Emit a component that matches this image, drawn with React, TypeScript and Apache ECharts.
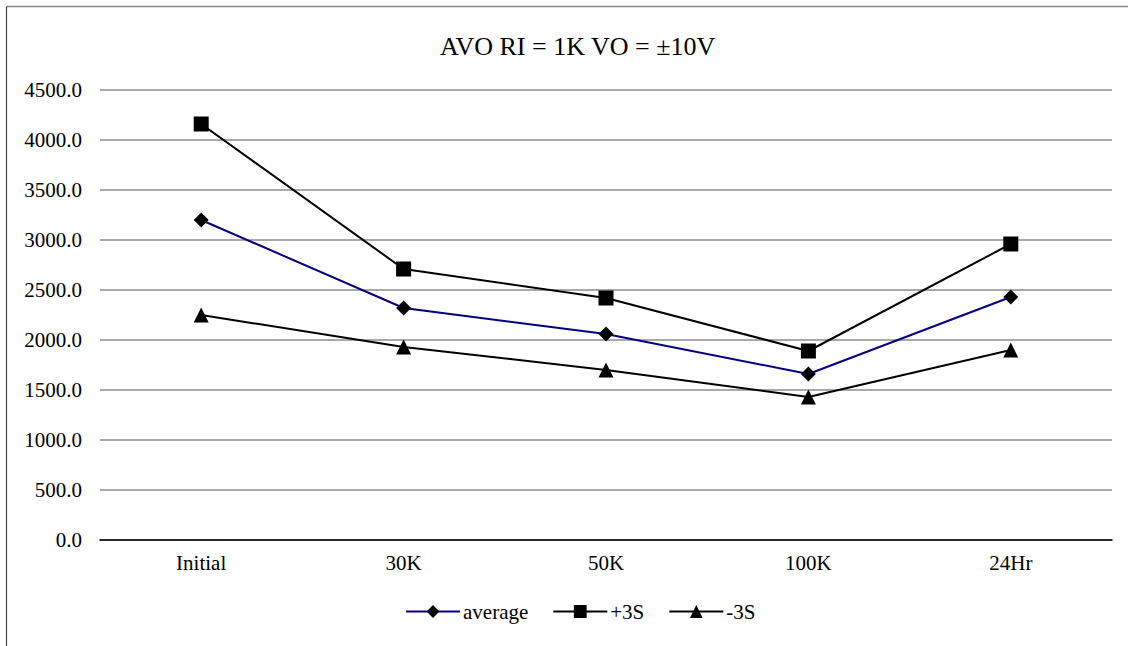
import React, { useEffect, useRef } from "react";
import * as echarts from "echarts";

const categories = ["Initial", "30K", "50K", "100K", "24Hr"];
const averageValues = [3200, 2320, 2060, 1660, 2430];
const plus3SValues = [4160, 2710, 2420, 1890, 2960];
const minus3SValues = [2250, 1930, 1700, 1430, 1900];
const titleText = "AVO RI = 1K VO = \u00b110V";

const FONT = "Liberation Serif";

export default function App() {
  const ref = useRef<HTMLDivElement>(null);
  useEffect(() => {
    if (!ref.current) return;
    const chart = echarts.init(ref.current, null, { renderer: "svg" });
    chart.setOption({
      animation: false,
      backgroundColor: "#ffffff",
      textStyle: { fontFamily: FONT },
      title: {
        text: titleText,
        left: 435,
        top: 28,
        textStyle: { fontFamily: FONT, fontSize: 26, fontWeight: "normal", color: "#000" },
      },
      graphic: [
        { type: "line", shape: { x1: 6.5, y1: 6.5, x2: 1128, y2: 6.5 }, style: { stroke: "#8c8c8c", lineWidth: 1.5 } },
        { type: "line", shape: { x1: 6.5, y1: 6.5, x2: 6.5, y2: 646 }, style: { stroke: "#444", lineWidth: 1.2 } },
      ],
      legend: {
        bottom: 19,
        left: 400,
        itemWidth: 54,
        itemHeight: 16,
        itemGap: 24,
        textStyle: { fontFamily: FONT, fontSize: 21, color: "#000", padding: [0, 0, 0, -2] },
        data: ["average", "+3S", "-3S"],
      },
      grid: { left: 100, right: 16, top: 90, bottom: 106 },
      xAxis: {
        type: "category",
        data: categories,
        boundaryGap: true,
        axisLine: { lineStyle: { color: "#000", width: 1.5 } },
        axisTick: { show: false },
        axisLabel: { fontFamily: FONT, fontSize: 21, color: "#000", margin: 12 },
      },
      yAxis: {
        type: "value",
        min: 0,
        max: 4500,
        interval: 500,
        axisLine: { show: false },
        axisTick: { show: false },
        splitLine: { lineStyle: { color: "#8c8c8c", width: 1.5 } },
        axisLabel: {
          fontFamily: FONT,
          fontSize: 21,
          color: "#000",
          margin: 18,
          formatter: (v: number) => v.toFixed(1),
        },
      },
      series: [
        {
          name: "average",
          type: "line",
          data: averageValues,
          symbol: "diamond",
          symbolSize: 15,
          lineStyle: { color: "#000080", width: 2 },
          itemStyle: { color: "#000" },
        },
        {
          name: "+3S",
          type: "line",
          data: plus3SValues,
          symbol: "rect",
          symbolSize: 15,
          lineStyle: { color: "#000", width: 2 },
          itemStyle: { color: "#000" },
        },
        {
          name: "-3S",
          type: "line",
          data: minus3SValues,
          symbol: "triangle",
          symbolSize: 15,
          lineStyle: { color: "#000", width: 2 },
          itemStyle: { color: "#000" },
        },
      ],
    });
    return () => chart.dispose();
  }, []);
  return (
    <div
      ref={ref}
      style={{ position: "fixed", left: 0, top: 0, width: 1128, height: 646 }}
    />
  );
}
